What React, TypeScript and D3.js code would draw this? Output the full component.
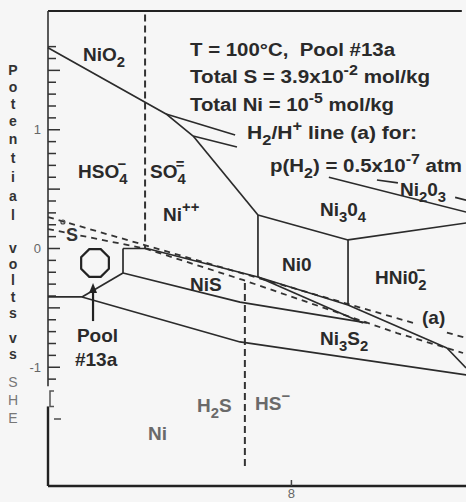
import React from 'react';
import * as d3 from 'd3';

type Pt = [number, number];

// ---------- data: (pH, potential in volts vs SHE) ----------
const nio2Lower: Pt[] = [[0, 1.69], [3.88, 1.133], [4.77, 0.947]];
const nio2Ni2o3: Pt[] = [[3.88, 1.133], [6.15, 0.956]];
const ni2o3Ni3o4: Pt[] = [[4.77, 0.947], [6.21, 0.855]];
const niIINi3o4: Pt[] = [[4.77, 0.947], [6.9, 0.282]];
const ni3o4Nio: Pt[] = [[6.9, 0.282], [9.86, 0.072]];
const ni3o4Hnio2: Pt[] = [[9.86, 0.072], [13.74, 0.215]];
const niIINio: Pt[] = [[6.9, 0.282], [6.9, -0.24]];
const nioHnio2: Pt[] = [[9.86, 0.072], [9.86, -0.476]];
const ni2o3Lower: Pt[] = [[9.23, 0.6], [13.74, 0.307]];
const ni2o3Pointer: Pt[] = [[10.81, 0.577], [11.5, 0.552]];
const ni2o3Tail: Pt[] = [[13.38, 0.43], [13.74, 0.408]];
const nisUpper: Pt[] = [[2.465, 0], [3.253, 0], [6.9, -0.24], [9.86, -0.476], [13.11, -0.838], [13.74, -1.006]];
const nioNis: Pt[] = [[6.9, -0.24], [10.35, -0.627]];
const niIINis: Pt[] = [[2.465, 0], [2.465, -0.206]];
const nisNi3s2: Pt[] = [[2.465, -0.206], [6.31, -0.451], [10.48, -0.627]];
const niIINi3s2: Pt[] = [[1.117, -0.408], [2.465, -0.206]];
const niIINi: Pt[] = [[0, -0.408], [1.117, -0.408]];
const ni3s2Ni: Pt[] = [[1.117, -0.408], [6.31, -0.787], [13.74, -1.065]];

const hso4So4: Pt[] = [[3.19, 1.97], [3.19, 0]];
const h2sHs: Pt[] = [[6.47, -0.291], [6.47, -1.848]];
const h2LineA: Pt[] = [[0, 0.265], [12.13, -0.636]];
const h2LineATail: Pt[] = [[13.11, -0.708], [13.74, -0.754]];
const sulfurLine: Pt[] = [[0, 0.164], [3.19, 0], [6.41, -0.265], [11.47, -0.712], [13.64, -0.88]];

const poolPoint: Pt = [1.545, -0.122];
const poolArrow: Pt[] = [[1.48, -0.611], [1.48, -0.29]];
const smallCircle: Pt = [0.49, 0.223];

const yTickValues = d3.range(-11, 18).map((d) => d / 10);
const yTickLabels: { v: number; t: string }[] = [
  { v: 1, t: '1' },
  { v: 0, t: '0' },
  { v: -1, t: '-1' },
];
const xTickValues = [8];
const xTickLabels = ['8'];

type Seg = { t: string; s?: 'sub' | 'sup'; dx?: number };

const phaseLabels: { p: Pt; segs: Seg[]; gray?: boolean }[] = [
  { p: [1.15, 1.579], segs: [{ t: 'NiO' }, { t: '2', s: 'sub' }] },
  { p: [0.986, 0.594], segs: [{ t: 'HSO' }, { t: '4', s: 'sub' }, { t: '−', s: 'sup', dx: -10 }] },
  { p: [3.352, 0.594], segs: [{ t: 'SO' }, { t: '4', s: 'sub' }, { t: '=', s: 'sup', dx: -10 }] },
  { p: [3.779, 0.232], segs: [{ t: 'Ni' }, { t: '++', s: 'sup' }] },
  { p: [8.939, 0.274], segs: [{ t: 'Ni' }, { t: '3', s: 'sub' }, { t: '0' }, { t: '4', s: 'sub' }] },
  { p: [11.568, 0.442], segs: [{ t: 'Ni' }, { t: '2', s: 'sub' }, { t: '0' }, { t: '3', s: 'sub' }] },
  { p: [7.69, -0.189], segs: [{ t: 'Ni0' }] },
  { p: [10.746, -0.299], segs: [{ t: 'HNi0' }, { t: '2', s: 'sub' }, { t: '−', s: 'sup', dx: -10 }] },
  { p: [4.667, -0.358], segs: [{ t: 'NiS' }] },
  { p: [8.939, -0.813], segs: [{ t: 'Ni' }, { t: '3', s: 'sub' }, { t: 'S' }, { t: '2', s: 'sub' }] },
  { p: [12.291, -0.636], segs: [{ t: '(a)' }] },
  { p: [4.897, -1.377], segs: [{ t: 'H' }, { t: '2', s: 'sub' }, { t: 'S' }], gray: true },
  { p: [6.803, -1.36], segs: [{ t: 'HS' }, { t: '−', s: 'sup' }], gray: true },
  { p: [3.286, -1.613], segs: [{ t: 'Ni' }], gray: true },
  { p: [0.95, -0.787], segs: [{ t: 'Pool' }] },
  { p: [0.887, -0.99], segs: [{ t: '#13a' }] },
];

const headerLines: { p: Pt; segs: Seg[]; len: number }[] = [
  { p: [4.667, 1.621], segs: [{ t: 'T = 100°C,  Pool #13a' }], len: 205 },
  { p: [4.667, 1.394], segs: [{ t: 'Total S = 3.9x10' }, { t: '-2', s: 'sup' }, { t: ' mol/kg' }], len: 240 },
  { p: [4.667, 1.158], segs: [{ t: 'Total Ni = 10' }, { t: '-5', s: 'sup' }, { t: ' mol/kg' }], len: 204 },
  { p: [6.54, 0.922], segs: [{ t: 'H' }, { t: '2', s: 'sub' }, { t: '/H' }, { t: '+', s: 'sup' }, { t: ' line (a) for:' }], len: 170 },
  { p: [7.296, 0.644], segs: [{ t: 'p(H' }, { t: '2', s: 'sub' }, { t: ') = 0.5x10' }, { t: '-7', s: 'sup' }, { t: ' atm' }], len: 192 },
];

const titleLetters: { t: string; y: number; gray?: boolean }[] = [
  { t: 'P', y: 75 }, { t: 'o', y: 92 }, { t: 't', y: 109 }, { t: 'e', y: 126 }, { t: 'n', y: 144 },
  { t: 't', y: 163 }, { t: 'i', y: 182 }, { t: 'a', y: 201 }, { t: 'l', y: 220 },
  { t: 'v', y: 253 }, { t: 'o', y: 269 }, { t: 'l', y: 285 }, { t: 't', y: 302 }, { t: 's', y: 318 },
  { t: 'v', y: 343 }, { t: 's', y: 359 },
  { t: 'S', y: 387, gray: true }, { t: 'H', y: 405, gray: true }, { t: 'E', y: 423, gray: true },
];

// ---------- layout ----------
const W = 466;
const H = 502;
const xScale = d3.scaleLinear().domain([0, 14]).range([48, 474]);
const yScale = d3.scaleLinear().domain([-2, 2]).range([486, 11]);
const line = d3.line<Pt>().x((d) => xScale(d[0])).y((d) => yScale(d[1]));

const FONT = '"Liberation Sans", Arial, Helvetica, sans-serif';
const INK = '#2b2b2b';
const BG = '#f6f6f6';

function Rich(props: {
  x: number; y: number; segs: Seg[]; size: number; fill: string; weight?: string | number;
  len?: number; halo?: boolean;
}) {
  const { x, y, segs, size, fill, weight = 'bold', len, halo } = props;
  let prev = 0;
  const kids = segs.map((sg, i) => {
    const off = sg.s === 'sub' ? size * 0.32 : sg.s === 'sup' ? -size * 0.45 : 0;
    const dy = off - prev;
    prev = off;
    const fs = sg.s ? size * 0.78 : size;
    return (
      <tspan key={i} dy={dy} dx={sg.dx || 0} fontSize={fs}>
        {sg.t}
      </tspan>
    );
  });
  return (
    <text
      x={x}
      y={y}
      fontFamily={FONT}
      fontWeight={weight}
      fontSize={size}
      fill={fill}
      textLength={len}
      lengthAdjust={len ? 'spacingAndGlyphs' : undefined}
      stroke={halo ? BG : undefined}
      strokeWidth={halo ? 4 : undefined}
      paintOrder={halo ? 'stroke' : undefined}
      style={{ whiteSpace: 'pre' }}
    >
      {kids}
    </text>
  );
}

export default function App() {
  const solid: Pt[][] = [
    nio2Lower, nio2Ni2o3, ni2o3Ni3o4, niIINi3o4, ni3o4Nio, ni3o4Hnio2, niIINio, nioHnio2,
    ni2o3Lower, ni2o3Pointer, ni2o3Tail, nisUpper, nioNis, niIINis, nisNi3s2, niIINi3s2, niIINi, ni3s2Ni,
  ];
  const dashedV: Pt[][] = [hso4So4, h2sHs];
  const dashedS: Pt[][] = [h2LineA, h2LineATail, sulfurLine];

  const cx = xScale(poolPoint[0]);
  const cy = yScale(poolPoint[1]);
  const r = 15;
  const oct: Pt[] = d3.range(8).map((i) => {
    const a = ((i * 45 + 22.5) * Math.PI) / 180;
    return [cx + r * Math.cos(a), cy + r * Math.sin(a)];
  });
  const octPath = d3.line<Pt>().curve(d3.curveLinearClosed)(oct) || '';

  const ax = xScale(poolArrow[0][0]);
  const ay0 = yScale(poolArrow[0][1]);
  const ay1 = yScale(poolArrow[1][1]);

  const x0 = xScale(0);
  const yTop = yScale(2);
  const yBot = yScale(-2);

  return (
    <div style={{ position: 'absolute', left: 0, top: 0 }}>
      <svg width={W} height={H} viewBox={`0 0 ${W} ${H}`} style={{ display: 'block' }}>
        <rect x={0} y={0} width={W} height={H} fill={BG} />

        {/* frame */}
        <line x1={x0} x2={xScale(13.6)} y1={yTop} y2={yTop} stroke="#222" strokeWidth={2.2} />
        <line x1={x0} x2={W} y1={yBot} y2={yBot} stroke="#222" strokeWidth={2.4} />
        <line x1={x0} x2={x0} y1={yTop} y2={yScale(-1.16)} stroke="#333" strokeWidth={1.6} />
        <path
          d={`M${x0 + 6},${yScale(-1.2)} H${x0 + 2} V${yScale(-1.33)} H${x0 + 6}`}
          fill="none"
          stroke="#555"
          strokeWidth={1.5}
        />
        <line x1={x0} x2={x0} y1={yScale(-1.33)} y2={yBot} stroke="#222" strokeWidth={2.4} />
        <line x1={x0 + 6} x2={x0 + 13} y1={yScale(-1.436)} y2={yScale(-1.436)} stroke="#777" strokeWidth={2} />

        {/* y ticks */}
        {yTickValues.map((v) => {
          const major = Math.abs(Math.round(v * 2) - v * 2) < 1e-6;
          return (
            <line
              key={v}
              x1={x0}
              x2={x0 + (major ? 12 : 8)}
              y1={yScale(v)}
              y2={yScale(v)}
              stroke="#333"
              strokeWidth={1.5}
            />
          );
        })}
        {yTickLabels.map((d) => (
          <text
            key={d.t}
            x={x0 - 7}
            y={yScale(d.v)}
            dy="0.35em"
            textAnchor="end"
            fontFamily={FONT}
            fontSize={13}
            fill="#666"
          >
            {d.t}
          </text>
        ))}

        {/* x ticks */}
        {xTickValues.map((v, i) => (
          <g key={v}>
            <line x1={xScale(v)} x2={xScale(v)} y1={yBot} y2={yBot - 6} stroke="#444" strokeWidth={1.5} />
            <text
              x={xScale(v)}
              y={yBot + 12}
              textAnchor="middle"
              fontFamily={FONT}
              fontSize={13}
              fill="#666"
            >
              {xTickLabels[i]}
            </text>
          </g>
        ))}

        {/* axis title (stacked letters) */}
        {titleLetters.map((d, i) => (
          <text
            key={i}
            x={13}
            y={d.y}
            textAnchor="middle"
            fontFamily={FONT}
            fontWeight={d.gray ? 'normal' : 'bold'}
            fontSize={14}
            fill={d.gray ? '#777' : '#333'}
          >
            {d.t}
          </text>
        ))}

        {/* dashed lines */}
        {dashedV.map((pts, i) => (
          <path key={'dv' + i} d={line(pts) || ''} fill="none" stroke="#333" strokeWidth={2} strokeDasharray="7 4" />
        ))}
        {dashedS.map((pts, i) => (
          <path key={'ds' + i} d={line(pts) || ''} fill="none" stroke="#333" strokeWidth={1.8} strokeDasharray="6 5" />
        ))}

        {/* solid boundaries */}
        {solid.map((pts, i) => (
          <path key={'s' + i} d={line(pts) || ''} fill="none" stroke={INK} strokeWidth={1.7} strokeLinejoin="round" />
        ))}

        {/* pool marker */}
        <path d={octPath} fill="none" stroke="#222" strokeWidth={2.2} />
        <line x1={ax} x2={ax} y1={ay0} y2={ay1 + 6} stroke="#222" strokeWidth={2.2} />
        <path d={`M${ax},${ay1} L${ax - 4},${ay1 + 10} L${ax + 4},${ay1 + 10} Z`} fill="#222" />
        <circle cx={xScale(smallCircle[0])} cy={yScale(smallCircle[1])} r={2} fill="none" stroke="#444" strokeWidth={1.2} />

        {/* labels */}
        <Rich x={xScale(0.592)} y={yScale(0.063)} segs={[{ t: 'S' }]} size={18} fill="#333" halo />
        {phaseLabels.map((d, i) => (
          <Rich
            key={'pl' + i}
            x={xScale(d.p[0])}
            y={yScale(d.p[1])}
            segs={d.segs}
            size={19}
            fill={d.gray ? '#6a6a6a' : '#2a2a2a'}
            halo={d.segs[0].t === '(a)'}
          />
        ))}
        {headerLines.map((d, i) => (
          <Rich key={'hl' + i} x={xScale(d.p[0])} y={yScale(d.p[1])} segs={d.segs} size={18} fill="#2a2a2a" len={d.len} />
        ))}
      </svg>
    </div>
  );
}
